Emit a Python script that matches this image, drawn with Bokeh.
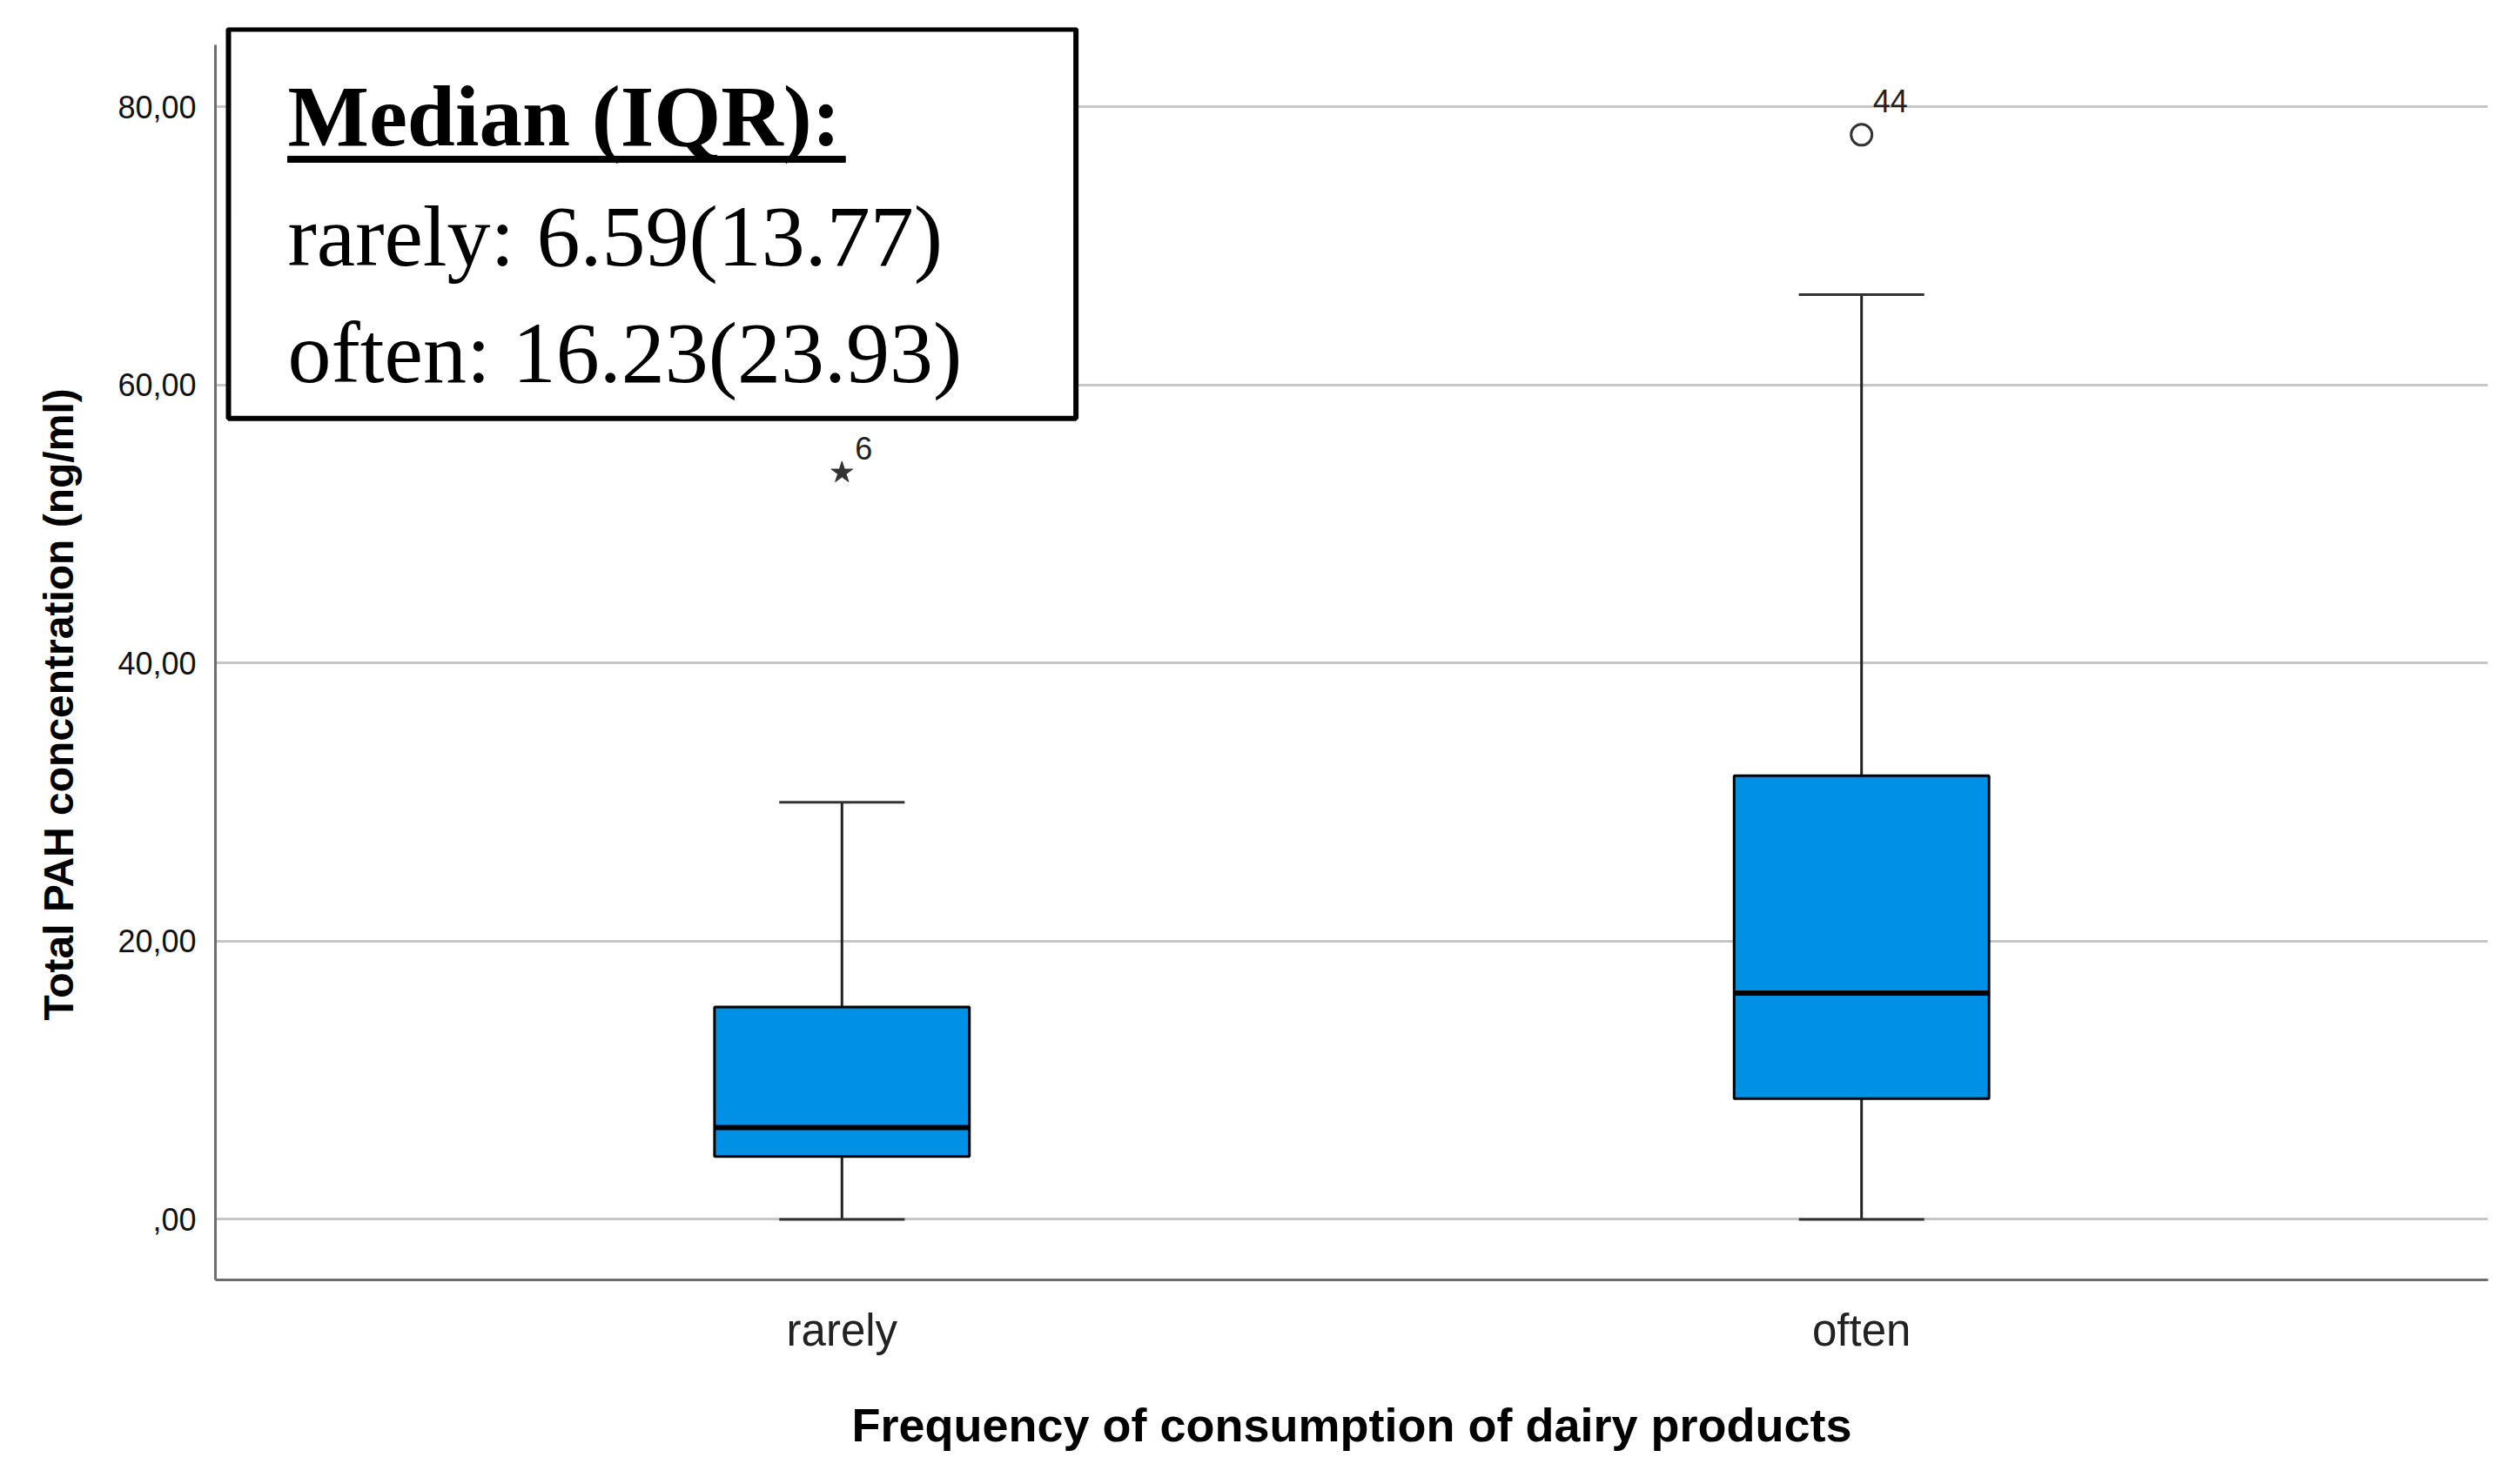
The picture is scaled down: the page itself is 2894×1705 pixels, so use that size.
from bokeh.plotting import figure
from bokeh.models import (FactorRange, Range1d, FixedTicker, BoxAnnotation, Title,
                          ColumnDataSource)
from bokeh.transform import dodge
from bokeh.core.properties import value
from bokeh.embed import file_html
from bokeh.resources import INLINE

# ---------------- data ----------------
groups = ["rarely", "often"]
q1 = [4.52, 8.68]
median = [6.60, 16.27]
q3 = [15.27, 31.90]
whisker_low = [0.0, 0.0]
whisker_high = [30.0, 66.5]

extreme_groups = ["rarely"]
extreme_values = [53.7]
extreme_ids = ["6"]

outlier_groups = ["often"]
outlier_values = [78.0]
outlier_ids = ["44"]

y_ticks = [0, 20, 40, 60, 80]
y_tick_labels = [",00", "20,00", "40,00", "60,00", "80,00"]

summary_title = "Median (IQR):"
summary_lines = ["rarely: 6.59(13.77)", "often: 16.23(23.93)"]

x_title = "Frequency of consumption of dairy products"
y_title = "Total PAH concentration (ng/ml)"

# ---------------- layout constants ----------------
W, H = 2878, 1689
Y_START, Y_END = -4.355, 85.72
PAD = 0.1145
FRAME_L, FRAME_R, FRAME_T, FRAME_B = 254, 2866, 30, 1478   # reference page pixels


def px(xref):
    span = 2 + 2 * PAD
    return -PAD + (xref - FRAME_L) / (FRAME_R - FRAME_L) * span


def py(yref):
    return Y_END - (yref - FRAME_T) / (FRAME_B - FRAME_T) * (Y_END - Y_START)


src = ColumnDataSource(dict(group=groups, q1=q1, median=median, q3=q3,
                            lo=whisker_low, hi=whisker_high))

p = figure(x_range=FactorRange(*groups, range_padding=PAD),
           y_range=Range1d(Y_START, Y_END),
           width=W, height=H, output_backend="svg", toolbar_location=None,
           min_border_left=FRAME_L - 8, min_border_right=W + 8 - FRAME_R,
           min_border_top=FRAME_T - 8 + 9, min_border_bottom=H + 8 - FRAME_B)
p.outline_line_color = None
p.background_fill_color = "white"
p.border_fill_color = "white"

# grid
p.xgrid.grid_line_color = None
p.ygrid.grid_line_color = "#c6c6c6"
p.ygrid.grid_line_width = 3
p.yaxis.ticker = FixedTicker(ticks=y_ticks)
p.ygrid.ticker = FixedTicker(ticks=y_ticks)
p.yaxis.major_label_overrides = {t: lab for t, lab in zip(y_ticks, y_tick_labels)}
p.yaxis.bounds = (Y_START, py(50))

# axes
for ax in (p.xaxis[0], p.yaxis[0]):
    ax.axis_line_color = "#6e6e6e"
    ax.axis_line_width = 3
    ax.major_tick_line_color = None
    ax.minor_tick_line_color = None
    ax.major_tick_out = 0
    ax.major_tick_in = 0
    ax.major_label_text_font = "Liberation Sans"
    ax.axis_label_text_font = "Liberation Sans"
    ax.axis_label_text_font_style = "bold"
    ax.axis_label_text_color = "black"

p.yaxis.major_label_text_font_size = "36px"
p.yaxis.major_label_text_color = "#111111"
p.yaxis.major_label_standoff = 22

p.add_layout(Title(text=y_title, align="left", offset=298, standoff=77,
                   text_font="Liberation Sans", text_font_style="bold",
                   text_font_size="48px", text_color="black"), "left")

p.xaxis.major_label_text_font_size = "51px"
p.xaxis.major_label_text_color = "#222222"
p.xaxis.major_label_standoff = 29
p.xaxis.axis_label = x_title
p.xaxis.axis_label_text_font_size = "54px"
p.xaxis.axis_label_standoff = 47

# summary box (drawn over the grid, under the glyphs)
p.add_layout(BoxAnnotation(left=px(269), right=px(1243), top=py(32), bottom=py(482),
                           fill_color="white", fill_alpha=1.0, level="underlay",
                           line_color="black", line_width=6, line_alpha=1.0))
p.add_layout(BoxAnnotation(left=px(337), right=px(978), top=py(179), bottom=py(186),
                           fill_color="black", fill_alpha=1.0, level="underlay",
                           line_color="black", line_width=1, line_alpha=1.0))

# whiskers
p.segment(x0="group", y0="q3", x1="group", y1="hi", source=src, line_color="#222222", line_width=3)
p.segment(x0="group", y0="lo", x1="group", y1="q1", source=src, line_color="#222222", line_width=3)
p.segment(x0=dodge("group", -0.0615, range=p.x_range), y0="hi",
          x1=dodge("group", 0.0615, range=p.x_range), y1="hi",
          source=src, line_color="#333333", line_width=3)
p.segment(x0=dodge("group", -0.0615, range=p.x_range), y0="lo",
          x1=dodge("group", 0.0615, range=p.x_range), y1="lo",
          source=src, line_color="#333333", line_width=3)

# boxes
p.vbar(x="group", width=0.25, bottom="q1", top="q3", source=src,
       fill_color="#0091E6", line_color="black", line_width=3)
p.segment(x0=dodge("group", -0.125, range=p.x_range), y0="median",
          x1=dodge("group", 0.125, range=p.x_range), y1="median",
          source=src, line_color="black", line_width=6)

# outliers
p.scatter(x=extreme_groups, y=extreme_values, marker="star", size=26,
          fill_color="#333333", line_color="#333333")
p.scatter(x=outlier_groups, y=outlier_values, marker="circle", size=24,
          fill_color="white", line_color="#333333", line_width=3)
p.text(x=extreme_groups, y=extreme_values, text=extreme_ids, x_offset=15, y_offset=-28,
       text_font=value("Liberation Sans"), text_font_size="36px",
       text_baseline="alphabetic", text_color="#222222")
p.text(x=outlier_groups, y=outlier_values, text=outlier_ids, x_offset=13, y_offset=-39,
       text_font=value("Liberation Sans"), text_font_size="36px",
       text_baseline="alphabetic", text_color="#222222")

# summary text
anchor = groups[0]
text_off = px(337) - 0.5
lines_src = ColumnDataSource(dict(cat=[anchor] * len(summary_lines),
                                  y=[py(272), py(406)], text=summary_lines))
title_src = ColumnDataSource(dict(cat=[anchor], y=[py(133)], text=[summary_title]))
p.text(x=dodge("cat", text_off, range=p.x_range), y="y", text="text", source=lines_src,
       text_font=value("Liberation Serif"), text_font_size="100px",
       text_baseline="alphabetic", text_color="black")
p.text(x=dodge("cat", text_off, range=p.x_range), y="y", text="text", source=title_src,
       text_font=value("Liberation Serif"), text_font_style=value("bold"),
       text_font_size="99px", text_baseline="alphabetic", text_color="black")

open("out.html", "w").write(file_html(p, INLINE))
